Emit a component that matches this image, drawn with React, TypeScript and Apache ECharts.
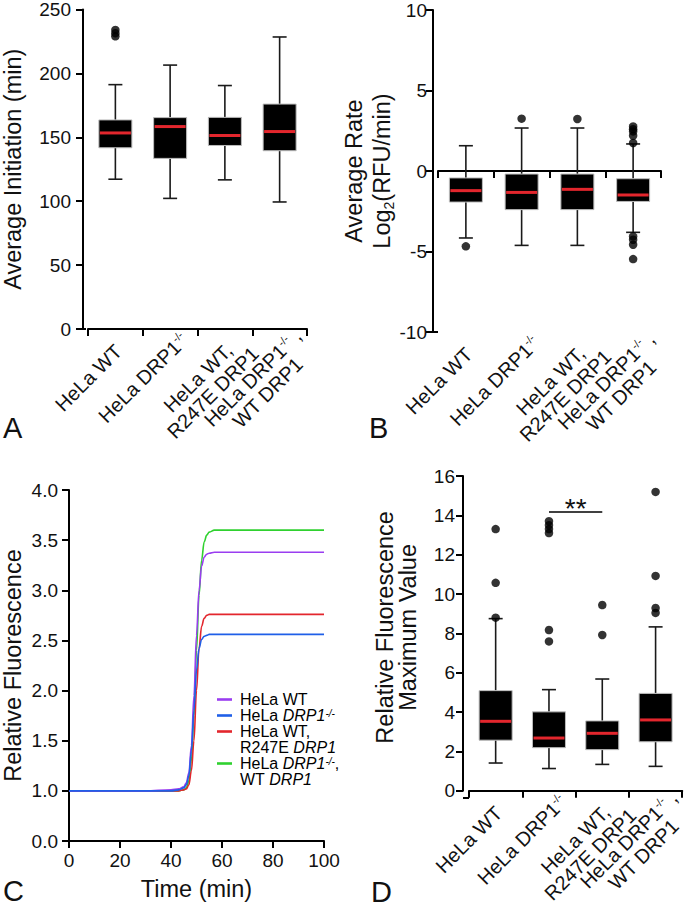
import React, { useEffect, useRef } from 'react';
import * as echarts from 'echarts';

const FONT = '"Liberation Sans", Arial, Helvetica, sans-serif';
const INK = '#111111';

// ---------- shared categories ----------
const categories = ['HeLa WT', 'HeLa DRP1-/-', 'HeLa WT,\nR247E DRP1', 'HeLa DRP1-/- ,\nWT DRP1'];

// ---------- Panel A: Average initiation (min) — [min, Q1, median, Q3, max] ----------
const initiationBoxes = [
  [117.2, 141.8, 153.4, 163.6, 191.2],
  [102.2, 133.5, 158.4, 165.4, 206.5],
  [116.7, 143.6, 151.4, 165.6, 190.5],
  [99.4, 139.5, 154.5, 176.0, 228.5],
];
const initiationOutliers = [[0, 229], [0, 231.5], [0, 234]];
const initiationAxis = { min: 0, max: 250, interval: 50 };

// ---------- Panel B: Average rate log2(RFU/min) ----------
const rateBoxes = [
  [-4.16, -1.93, -1.22, -0.43, 1.57],
  [-4.62, -2.4, -1.33, -0.19, 2.67],
  [-4.62, -2.4, -1.14, -0.19, 2.67],
  [-3.81, -1.89, -1.49, -0.48, 1.68],
];
const rateOutliers = [
  [0, -4.68],
  [1, 3.25],
  [2, 3.23],
  [3, 2.77], [3, 2.6], [3, 2.46], [3, 2.19], [3, 1.74],
  [3, -4.06], [3, -4.27], [3, -4.58], [3, -5.47],
];
const rateAxis = { min: -10, max: 10, interval: 5 };

// ---------- Panel C: Relative fluorescence vs time ----------
const fluorescenceTime = [0, 10, 20, 30, 40, 43, 45, 46, 47, 48, 49, 50, 51, 52, 53, 54, 55, 57, 60, 70, 80, 90, 100];
const wtCurve = [1, 1, 1, 1, 1.01, 1.02, 1.04, 1.08, 1.18, 1.45, 1.95, 2.55, 3.0, 3.24, 3.33, 3.36, 3.37, 3.38, 3.38, 3.38, 3.38, 3.38, 3.38];
const koCurve = [1, 1, 1, 1, 1, 1.01, 1.03, 1.06, 1.15, 1.4, 1.8, 2.2, 2.42, 2.51, 2.54, 2.55, 2.56, 2.56, 2.56, 2.56, 2.56, 2.56, 2.56];
const r247eCurve = [1, 1, 1, 1, 1, 1, 1.01, 1.02, 1.06, 1.2, 1.5, 2.0, 2.42, 2.64, 2.72, 2.75, 2.76, 2.76, 2.76, 2.76, 2.76, 2.76, 2.76];
const rescueCurve = [1, 1, 1, 1, 1, 1, 1.01, 1.03, 1.1, 1.3, 1.75, 2.4, 2.95, 3.3, 3.48, 3.55, 3.58, 3.6, 3.6, 3.6, 3.6, 3.6, 3.6];
const curveNames = ['HeLa WT', 'HeLa DRP1-/-', 'HeLa WT,\nR247E DRP1', 'HeLa DRP1-/-,\nWT DRP1'];
const curveColors = ['#9a3df0', '#1f5fe8', '#e3262d', '#2fd12f'];
const fluorescenceYAxis = { min: 0.5, max: 4.0, interval: 0.5 }; // axis break: bottom tick labelled 0.0
const fluorescenceXAxis = { min: 0, max: 100, interval: 20 };

// ---------- Panel D: Relative fluorescence maximum value ----------
const maxBoxes = [
  [1.41, 2.57, 3.53, 5.09, 8.75],
  [1.13, 2.19, 2.68, 4.01, 5.14],
  [1.34, 2.09, 2.92, 3.55, 5.68],
  [1.24, 2.49, 3.6, 4.95, 8.33],
];
const maxOutliers = [
  [0, 8.8], [0, 10.57], [0, 13.3],
  [1, 7.59], [1, 8.17], [1, 13.1], [1, 13.3], [1, 13.5], [1, 13.7],
  [2, 7.92], [2, 9.44],
  [3, 9.04], [3, 9.29], [3, 10.92], [3, 15.19],
];
const maxAxis = { min: 0, max: 16, interval: 2 };
const significance = { from: 1, to: 2, y: 14.2, text: '**' };

// ---------- helpers ----------
function richCategory(label: string): string {
  const lines = label.split('\n').map((line) =>
    line
      .split('-/-')
      .map((p) => (p ? `{t|${p}}` : ''))
      .join('{s|-/-}')
  );
  // keep the first line on the same baseline position as single-line labels
  if (lines.length === 2) lines.unshift('{b| }');
  return lines.join('\n');
}

const catRich = {
  t: { fontSize: 20, fontFamily: FONT, color: INK, align: 'center', lineHeight: 21 },
  b: { fontSize: 20, fontFamily: FONT, color: INK, align: 'center', lineHeight: 21 },
  s: { fontSize: 11, fontFamily: FONT, color: INK, align: 'center', verticalAlign: 'top', lineHeight: 8 },
};

function catAxis(gridIndex: number) {
  return {
    type: 'category',
    gridIndex,
    data: categories,
    axisLine: { show: true, lineStyle: { color: '#000', width: 2 } },
    axisTick: { show: true, length: 7, lineStyle: { color: '#000', width: 2 } },
    axisLabel: {
      interval: 0,
      rotate: 45,
      align: 'center',
      verticalAlign: 'middle',
      margin: 22,
      padding: [0, 76, 0, 0],
      formatter: (v: string) => richCategory(v),
      rich: catRich,
    },
    splitLine: { show: false },
  };
}

function valAxis(gridIndex: number, range: any, margin: number, extra: any = {}) {
  return {
    type: 'value',
    gridIndex,
    min: range.min,
    max: range.max,
    interval: range.interval,
    axisLine: { show: true, lineStyle: { color: '#000', width: 2 } },
    axisTick: { show: true, length: 7, lineStyle: { color: '#000', width: 2 } },
    axisLabel: { fontSize: 19, fontFamily: FONT, color: INK, margin },
    splitLine: { show: false },
    nameLocation: 'middle',
    nameTextStyle: { fontSize: 23.5, fontFamily: FONT, color: INK },
    ...extra,
  };
}

function boxRenderer(boxW: number, capW: number) {
  return (_params: any, api: any) => {
    const i = api.value(0);
    const pMin = api.coord([i, api.value(1)]);
    const pQ1 = api.coord([i, api.value(2)]);
    const pMed = api.coord([i, api.value(3)]);
    const pQ3 = api.coord([i, api.value(4)]);
    const pMax = api.coord([i, api.value(5)]);
    const x = pMin[0];
    const h = boxW / 2;
    const c = capW / 2;
    const ws = { stroke: '#1a1a1a', lineWidth: 1.6 };
    return {
      type: 'group',
      children: [
        { type: 'line', shape: { x1: x, y1: pMax[1], x2: x, y2: pQ3[1] }, style: ws },
        { type: 'line', shape: { x1: x, y1: pQ1[1], x2: x, y2: pMin[1] }, style: ws },
        { type: 'line', shape: { x1: x - c, y1: pMax[1], x2: x + c, y2: pMax[1] }, style: ws },
        { type: 'line', shape: { x1: x - c, y1: pMin[1], x2: x + c, y2: pMin[1] }, style: ws },
        {
          type: 'rect',
          shape: { x: x - h, y: pQ3[1], width: boxW, height: pQ1[1] - pQ3[1] },
          style: { fill: '#000', stroke: '#bdbdbd', lineWidth: 1 },
        },
        {
          type: 'line',
          shape: { x1: x - h + 1, y1: pMed[1], x2: x + h - 1, y2: pMed[1] },
          style: { stroke: '#e3262d', lineWidth: 3 },
        },
      ],
    };
  };
}

function boxSeries(idx: number, boxes: number[][]) {
  return {
    type: 'custom',
    xAxisIndex: idx,
    yAxisIndex: idx,
    renderItem: boxRenderer(33, 14),
    encode: { x: 0, y: [1, 2, 3, 4, 5] },
    data: boxes.map((b, i) => [i, ...b]),
    z: 2,
  };
}

function outlierSeries(idx: number, pts: number[][]) {
  return {
    type: 'scatter',
    xAxisIndex: idx,
    yAxisIndex: idx,
    symbol: 'circle',
    symbolSize: 8.5,
    itemStyle: { color: '#000' },
    data: pts,
    z: 3,
  };
}

function legendRich() {
  return {
    n: { fontSize: 16, fontFamily: FONT, color: INK, lineHeight: 15 },
    i: { fontSize: 16, fontFamily: FONT, color: INK, fontStyle: 'italic', lineHeight: 15 },
    s: { fontSize: 10, fontFamily: FONT, color: INK, fontStyle: 'italic', verticalAlign: 'top', lineHeight: 7 },
  };
}

function legendLine(line: string): string {
  // italicise the gene name and superscript the genotype
  return line
    .split('-/-')
    .map((part) =>
      part
        .split('DRP1')
        .map((q) => (q ? `{n|${q}}` : ''))
        .join('{i|DRP1}')
    )
    .join('{s|-/-}');
}

function buildLegend() {
  const children: any[] = [];
  const x0 = 217;
  const tx = 240;
  const rowH = 16;
  let row = 0;
  curveNames.forEach((name, k) => {
    const lines = name.split('\n');
    const y = 699.5 + row * rowH;
    children.push({
      type: 'line',
      shape: { x1: x0, y1: y, x2: x0 + 15, y2: y },
      style: { stroke: curveColors[k], lineWidth: 2.6 },
    });
    lines.forEach((ln, j) => {
      children.push({
        type: 'text',
        style: {
          x: tx,
          y: y + j * rowH,
          text: legendLine(ln),
          rich: legendRich(),
          verticalAlign: 'middle',
          align: 'left',
        },
      });
    });
    row += lines.length;
  });
  return children;
}

function panelLetter(t: string, x: number, y: number) {
  return {
    type: 'text',
    style: { x, y, text: t, fontSize: 29, fontFamily: FONT, fill: INK, verticalAlign: 'middle' },
  };
}

function gapLine(x1: number, x2: number, y: number) {
  return { type: 'line', shape: { x1, y1: y, x2, y2: y }, style: { stroke: '#000', lineWidth: 2 } };
}

export default function App() {
  const ref = useRef<HTMLDivElement>(null);
  useEffect(() => {
    if (!ref.current) return;
    const chart = echarts.init(ref.current, undefined, { renderer: 'svg' });
    const option: any = {
      animation: false,
      backgroundColor: '#fff',
      textStyle: { fontFamily: FONT },
      grid: [
        { left: 86, top: 7, width: 221, height: 322 },
        { left: 438, top: 10, width: 223, height: 322 },
        { left: 64, top: 490, width: 260, height: 351 },
        { left: 469, top: 476, width: 222, height: 322 },
      ],
      xAxis: [
        catAxis(0),
        catAxis(1),
        {
          type: 'value',
          gridIndex: 2,
          min: fluorescenceXAxis.min,
          max: fluorescenceXAxis.max,
          interval: fluorescenceXAxis.interval,
          axisLine: { show: true, lineStyle: { color: '#000', width: 2 } },
          axisTick: { show: true, length: 7, lineStyle: { color: '#000', width: 2 } },
          axisLabel: { fontSize: 19, fontFamily: FONT, color: INK, margin: 10 },
          splitLine: { show: false },
          name: 'Time (min)',
          nameLocation: 'middle',
          nameGap: 36,
          nameTextStyle: { fontSize: 23.5, fontFamily: FONT, color: INK },
        },
        catAxis(3),
      ],
      yAxis: [
        valAxis(0, initiationAxis, 12, { offset: 5, name: 'Average Initiation (min)', nameGap: 58 }),
        valAxis(1, rateAxis, 6, {
          offset: 5,
          name: 'Average Rate\nLog{sub|2}(RFU/min)',
          nameGap: 31,
          nameTextStyle: {
            fontSize: 23.5,
            fontFamily: FONT,
            color: INK,
            lineHeight: 28,
            rich: { sub: { fontSize: 14, fontFamily: FONT, color: INK, verticalAlign: 'bottom', lineHeight: 12 } },
          },
        }),
        valAxis(2, fluorescenceYAxis, 11, {
          name: 'Relative Fluorescence',
          nameGap: 44,
          axisLabel: {
            fontSize: 19,
            fontFamily: FONT,
            color: INK,
            margin: 11,
            formatter: (v: number) => (v === fluorescenceYAxis.min ? '0.0' : v.toFixed(1)),
          },
        }),
        valAxis(3, maxAxis, 8, {
          offset: 6,
          name: 'Relative Fluorescence\nMaximum Value',
          nameGap: 44,
          nameTextStyle: { fontSize: 23.5, fontFamily: FONT, color: INK, lineHeight: 23, padding: [0, 0, 0, 12] },
        }),
      ],
      series: [
        boxSeries(0, initiationBoxes),
        outlierSeries(0, initiationOutliers),
        boxSeries(1, rateBoxes),
        outlierSeries(1, rateOutliers),
        ...[
          { d: rescueCurve, k: 3 },
          { d: r247eCurve, k: 2 },
          { d: wtCurve, k: 0 },
          { d: koCurve, k: 1 },
        ].map(({ d, k }) => ({
          type: 'line',
          name: curveNames[k],
          xAxisIndex: 2,
          yAxisIndex: 2,
          data: fluorescenceTime.map((t, i) => [t, d[i]]),
          showSymbol: false,
          smooth: 0.35,
          smoothMonotone: 'x',
          lineStyle: { color: curveColors[k], width: 1.6 },
          itemStyle: { color: curveColors[k] },
        })),
        boxSeries(3, maxBoxes),
        outlierSeries(3, maxOutliers),
        {
          type: 'line',
          xAxisIndex: 3,
          yAxisIndex: 3,
          data: [],
          markLine: {
            silent: true,
            symbol: 'none',
            lineStyle: { color: '#000', width: 1.5, type: 'solid' },
            label: {
              show: true,
              position: 'middle',
              formatter: significance.text,
              fontSize: 28,
              fontFamily: FONT,
              color: INK,
              distance: -11,
            },
            data: [[{ coord: [significance.from, significance.y] }, { coord: [significance.to, significance.y] }]],
          },
        },
      ],
      graphic: [
        gapLine(81, 86, 329),
        gapLine(433, 438, 332),
        gapLine(463, 469, 798),
        panelLetter('A', 3, 428),
        panelLetter('B', 369, 428),
        panelLetter('C', 3, 891),
        panelLetter('D', 371, 892),
        ...buildLegend(),
      ],
    };
    chart.setOption(option);
    return () => chart.dispose();
  }, []);
  return <div ref={ref} style={{ position: 'absolute', left: 0, top: 0, width: 697, height: 909 }} />;
}
